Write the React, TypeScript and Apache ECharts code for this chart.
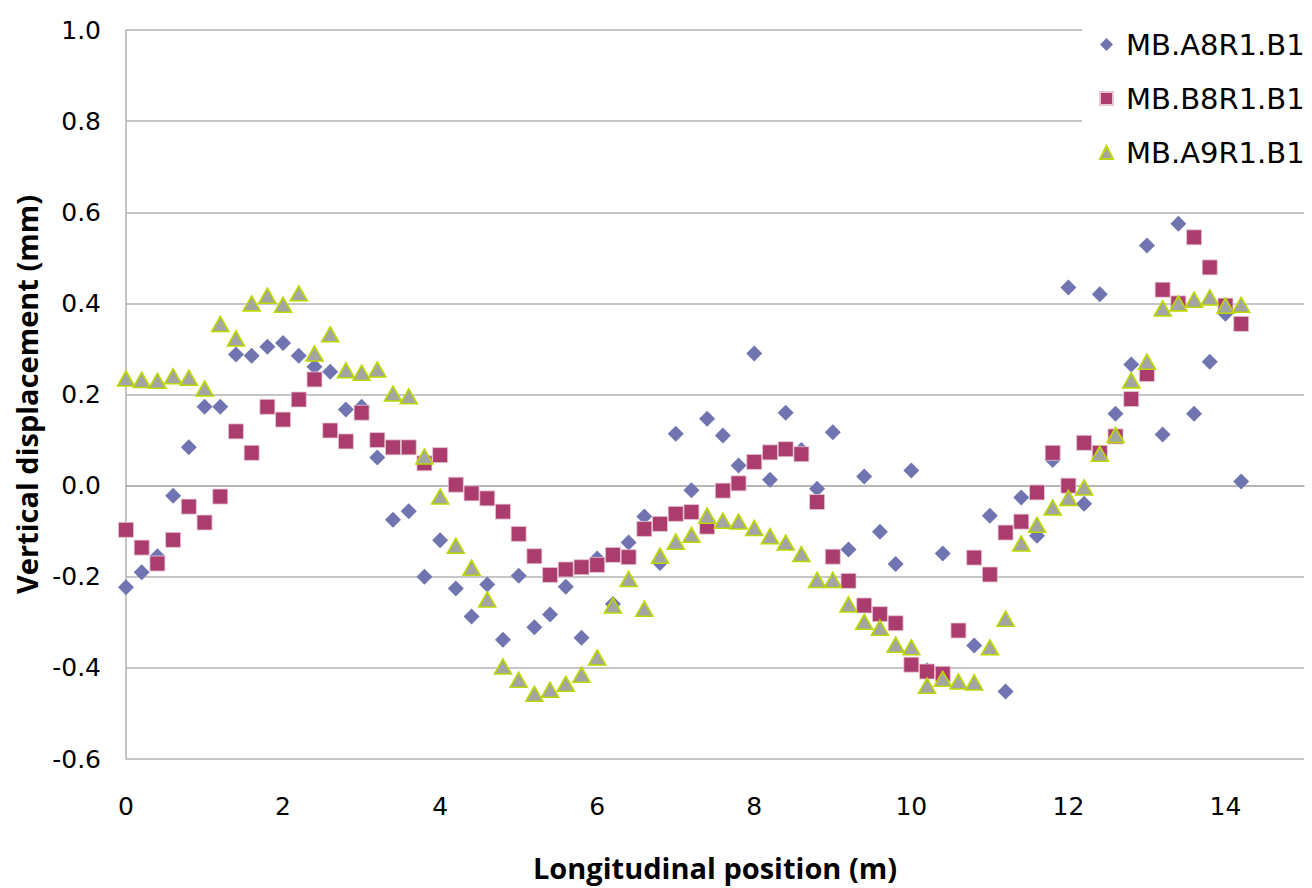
import React, { useEffect, useRef } from "react";
import * as echarts from "echarts";

const positions = [
  0, 0.2, 0.4, 0.6, 0.8, 1.0, 1.2, 1.4, 1.6, 1.8, 2.0, 2.2, 2.4, 2.6, 2.8, 3.0, 3.2, 3.4, 3.6, 3.8,
  4.0, 4.2, 4.4, 4.6, 4.8, 5.0, 5.2, 5.4, 5.6, 5.8, 6.0, 6.2, 6.4, 6.6, 6.8, 7.0, 7.2, 7.4, 7.6, 7.8,
  8.0, 8.2, 8.4, 8.6, 8.8, 9.0, 9.2, 9.4, 9.6, 9.8, 10.0, 10.2, 10.4, 10.6, 10.8, 11.0, 11.2, 11.4,
  11.6, 11.8, 12.0, 12.2, 12.4, 12.6, 12.8, 13.0, 13.2, 13.4, 13.6, 13.8, 14.0, 14.2,
];

const mbA8R1 = [
  -0.223, -0.19, -0.155, -0.022, 0.084, 0.173, 0.173, 0.288, 0.285, 0.305, 0.313, 0.285, 0.261, 0.25,
  0.167, 0.173, 0.062, -0.075, -0.056, -0.2, -0.12, -0.226, -0.287, -0.217, -0.338, -0.198, -0.311,
  -0.283, -0.222, -0.334, -0.16, -0.26, -0.125, -0.068, -0.17, 0.114, -0.01, 0.147, 0.11, 0.044, 0.29,
  0.013, 0.16, 0.078, -0.007, 0.117, -0.14, 0.02, -0.101, -0.172, 0.033, -0.405, -0.149, -0.318,
  -0.351, -0.066, -0.452, -0.026, -0.11, 0.056, 0.435, -0.04, 0.42, 0.158, 0.266, 0.527, 0.112, 0.575,
  0.158, 0.272, 0.377, 0.009,
];

const mbB8R1 = [
  -0.097, -0.136, -0.171, -0.119, -0.046, -0.081, -0.024, 0.119, 0.072, 0.173, 0.145, 0.189, 0.233,
  0.121, 0.097, 0.16, 0.1, 0.084, 0.084, 0.049, 0.067, 0.002, -0.017, -0.028, -0.057, -0.106, -0.155,
  -0.196, -0.184, -0.179, -0.174, -0.152, -0.157, -0.095, -0.084, -0.062, -0.058, -0.09, -0.011, 0.005,
  0.052, 0.073, 0.08, 0.069, -0.036, -0.156, -0.209, -0.263, -0.282, -0.302, -0.393, -0.408, -0.413,
  -0.318, -0.158, -0.195, -0.103, -0.079, -0.015, 0.072, 0.0, 0.094, 0.072, 0.108, 0.19, 0.245, 0.43,
  0.4, 0.545, 0.479, 0.395, 0.355,
];

const mbA9R1 = [
  0.235, 0.232, 0.23, 0.24, 0.237, 0.213, 0.355, 0.323, 0.4, 0.417, 0.397, 0.422, 0.29, 0.332, 0.253,
  0.248, 0.255, 0.202, 0.196, 0.064, -0.024, -0.132, -0.18, -0.25, -0.397, -0.426, -0.457, -0.448,
  -0.435, -0.415, -0.377, -0.263, -0.205, -0.27, -0.154, -0.123, -0.108, -0.066, -0.077, -0.079,
  -0.093, -0.111, -0.125, -0.15, -0.207, -0.207, -0.261, -0.299, -0.312, -0.349, -0.355, -0.439,
  -0.424, -0.43, -0.432, -0.355, -0.292, -0.127, -0.086, -0.048, -0.027, -0.004, 0.07, 0.111, 0.231,
  0.272, 0.389, 0.4, 0.408, 0.413, 0.395, 0.397,
];

const seriesNames = ["MB.A8R1.B1", "MB.B8R1.B1", "MB.A9R1.B1"];

const pair = (ys: number[]) => ys.map((y, i) => [positions[i], y]);

export default function App() {
  const ref = useRef<HTMLDivElement>(null);
  useEffect(() => {
    if (!ref.current) return;
    const chart = echarts.init(ref.current, null, { renderer: "svg" });
    const tickFont = { fontFamily: "DejaVu Sans", fontSize: 25, color: "#000" };
    const titleFont = { fontFamily: "Open Sans", fontWeight: "bold", fontSize: 29, color: "#000" };
    chart.setOption({
      animation: false,
      backgroundColor: "#fff",
      grid: { left: 126, top: 30, right: 8, bottom: 129, containLabel: false },
      xAxis: {
        type: "value",
        min: 0,
        max: 15,
        interval: 2,
        name: "Longitudinal position (m)",
        nameLocation: "middle",
        nameGap: 94,
        nameTextStyle: titleFont,
        axisLine: { show: true, lineStyle: { color: "#b0b0b0", width: 1.5 } },
        axisTick: { show: false },
        splitLine: { show: false },
        axisLabel: {
          ...tickFont,
          margin: 35,
          formatter: (v: number) => (v % 2 === 0 ? String(v) : ""),
        },
      },
      yAxis: {
        type: "value",
        min: -0.6,
        max: 1.0,
        interval: 0.2,
        name: "Vertical displacement (mm)",
        nameLocation: "middle",
        nameGap: 76,
        nameRotate: 90,
        nameTextStyle: titleFont,
        axisLine: { show: true, lineStyle: { color: "#b0b0b0", width: 1.5 } },
        axisTick: { show: false },
        splitLine: { show: true, lineStyle: { color: "#b3b3b3", width: 1.5 } },
        axisLabel: {
          ...tickFont,
          margin: 25,
          formatter: (v: number) => v.toFixed(1),
        },
      },
      legend: {
        orient: "vertical",
        left: 1082,
        top: 17,
        padding: [13, 20, 30, 17],
        itemGap: 25,
        itemWidth: 13,
        itemHeight: 13,
        backgroundColor: "#fff",
        textStyle: { fontFamily: "DejaVu Sans", fontSize: 29, color: "#000", padding: [0, 0, 0, 8] },
        data: seriesNames,
      },
      series: [
        {
          name: seriesNames[0],
          type: "scatter",
          symbol: "diamond",
          symbolSize: 16,
          itemStyle: { color: "#7075b1", opacity: 1 },
          data: pair(mbA8R1),
          z: 2,
        },
        {
          name: seriesNames[1],
          type: "scatter",
          symbol: "rect",
          symbolSize: 15,
          itemStyle: { color: "#ab3d6e", borderColor: "#e8c6d4", borderWidth: 0.8, opacity: 1 },
          data: pair(mbB8R1),
          z: 3,
        },
        {
          name: seriesNames[2],
          type: "scatter",
          symbol: "triangle",
          symbolSize: [17, 15],
          itemStyle: { color: "#a3a5a2", borderColor: "#bdd700", borderWidth: 1.6, opacity: 1 },
          data: pair(mbA9R1),
          z: 4,
        },
      ],
    });
    return () => chart.dispose();
  }, []);
  return (
    <div
      ref={ref}
      style={{ position: "fixed", left: 0, top: 0, width: 1312, height: 888, background: "#fff" }}
    />
  );
}
